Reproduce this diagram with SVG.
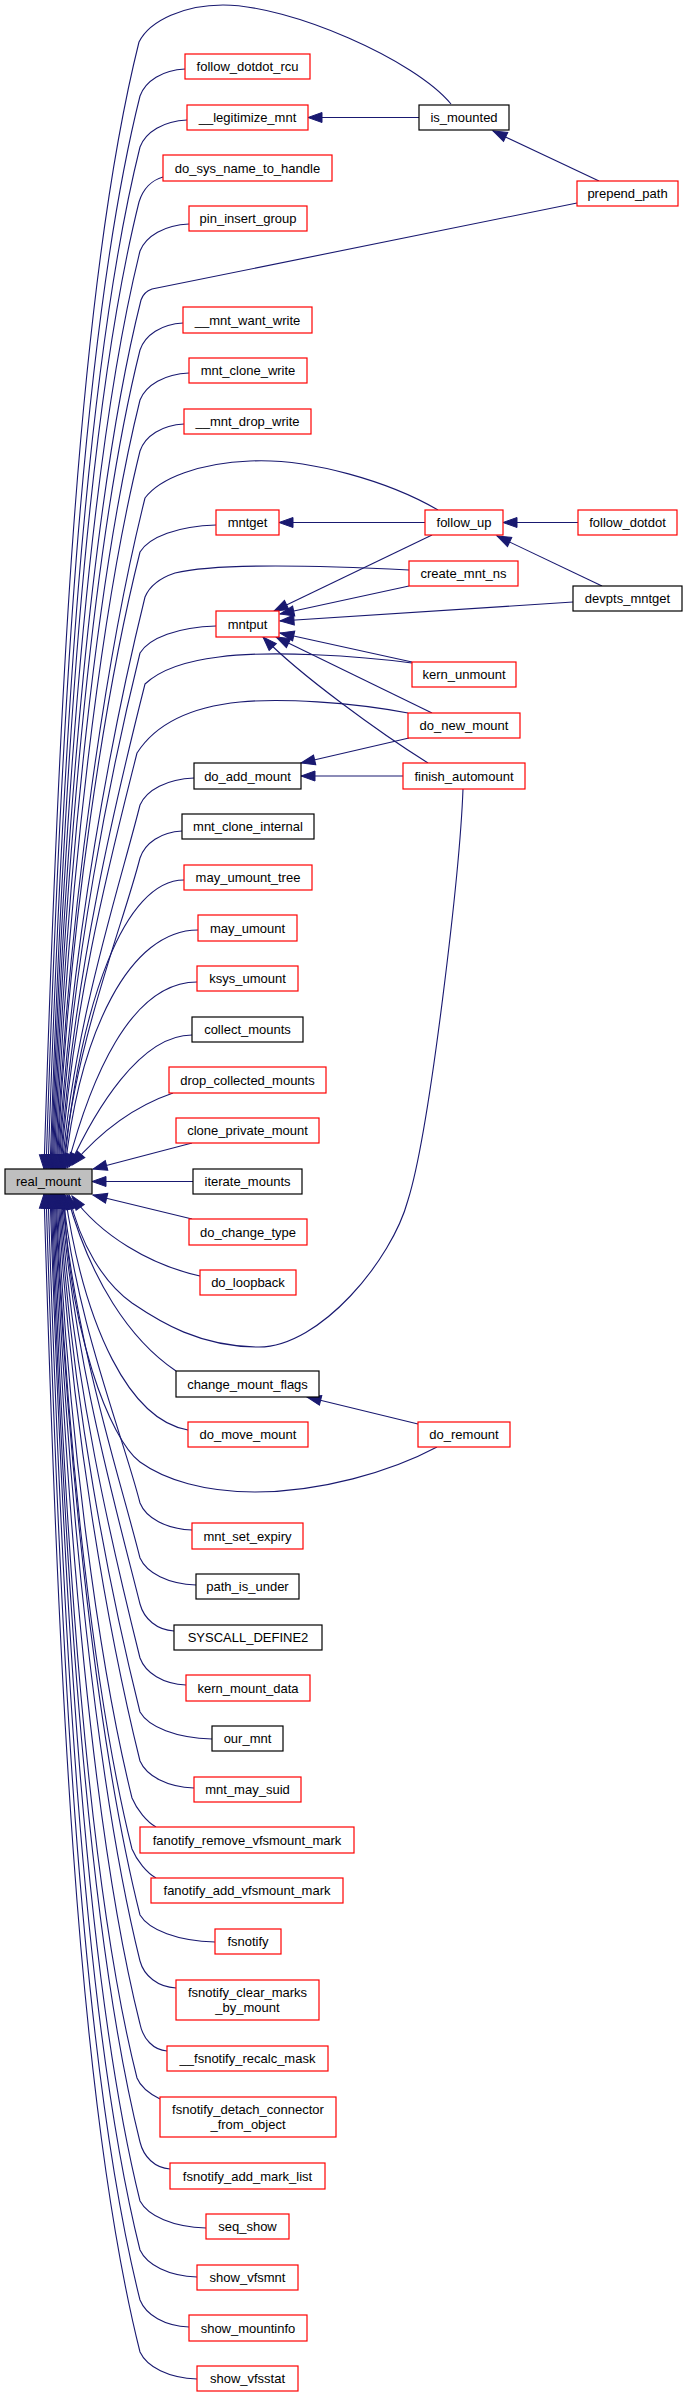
<svg xmlns="http://www.w3.org/2000/svg" width="683" height="2397" viewBox="0 0 683 2397">
<style>
.n rect{fill:#ffffff;stroke:#ff0000;stroke-width:1.2}
.k rect{stroke:#000000}
.g rect{fill:#bfbfbf;stroke:#000000}
text{font-family:"Liberation Sans",Arial,Helvetica,sans-serif;font-size:13px;text-anchor:middle;fill:#000000}
.e path{fill:none;stroke:#191970;stroke-width:1.1;marker-end:url(#ah)}
</style>
<defs>
<marker id="ah" markerUnits="userSpaceOnUse" markerWidth="14" markerHeight="10" refX="14" refY="5" orient="auto" viewBox="0 0 14 10" overflow="visible">
<path d="M0,0 L14,5 L0,10 Z" fill="#191970" stroke="#191970" stroke-width="1"/>
</marker>
</defs>
<rect x="0" y="0" width="683" height="2397" fill="#ffffff"/>
<g id="edges" class="e">
<path d="M419,117.5 L308,117.5"/>
<path d="M599,181 L493,131"/>
<path d="M425,522.5 L279,522.5"/>
<path d="M578,522.5 L503,522.5"/>
<path d="M602,586 L497,536"/>
<path d="M432,535 L274,611"/>
<path d="M409,586 L280,614"/>
<path d="M573,602 L280,621"/>
<path d="M412,662 L280,633"/>
<path d="M432,713 L276,637"/>
<path d="M428,763 C380,733 300,675 263,637"/>
<path d="M409,738 L301,763"/>
<path d="M403,776 L301,776"/>
<path d="M418,1424 L307,1397"/>
<path d="M192,1143 L93,1169"/>
<path d="M193,1181.5 L92,1181.5"/>
<path d="M192,1219 L93,1195"/>
<path d="M451,104 C415,60 290,5 223,5 C185,5 150,20 139,42 C77,290 58,718 44,1169"/>
<path d="M577,203 L152,289 C146,291 143,294 141,300 C93,491 65,821 52,1169"/>
<path d="M438,510 C390,482 310,458 250,461 C200,463 160,478 145,498 C108,646 69,901 56,1169"/>
<path d="M409,570 C330,566 220,562 175,573 C160,578 150,585 145,597 C114,723 71,940 58,1169"/>
<path d="M412,663 C360,656 270,650 219,657 C185,661 160,670 145,684 C118,791 73,975 60,1169"/>
<path d="M408,713 C350,702 280,698 240,702 C190,707 155,725 137,753 C114,845 72,1003 61,1169"/>
<path d="M463,789 C460,870 430,1130 408,1200 C392,1260 320,1347 259,1347 C200,1347 160,1322 132,1303 C104,1283 80,1245 69,1195"/>
<path d="M437,1447 C390,1472 320,1492 255,1492 C205,1492 165,1480 140,1462 C110,1440 68,1330 64,1194"/>
<path d="M185,69 C162.5,70 145.4,81 140,96 C81,332 60,740 46,1169"/>
<path d="M187,120 C163.5,121 145.6,132 140,147 C84,372 62,760 48,1169"/>
<path d="M163,177 C152,180 143,189 139,202 C86,415 63,782 50,1169"/>
<path d="M189,224 C164.5,225 146,236 140,251 C90,453 64,802 51,1169"/>
<path d="M183,323 C161.5,324 145,335 140,350 C95,530 66,841 53,1169"/>
<path d="M189,373 C164.5,374 146,385 140,400 C98,569 67,861 54,1169"/>
<path d="M184,424 C162,425 145,436 140,451 C101,609 68,882 55,1169"/>
<path d="M216,525 C178,526 149,537 140,552 C106,688 69,922 57,1169"/>
<path d="M216,626 C178,627 149,638 140,653 C112,767 71,963 59,1169"/>
<path d="M194,778 C167,779 146.5,790 140,805 C120,885 74,1023 62,1169"/>
<path d="M182,831 C161,832 145,843 140,858 C123,925 74.5,1044 63,1169"/>
<path d="M184,880 C125,880 80,1000 64,1169"/>
<path d="M198,930 C130,930 80,1030 65,1169"/>
<path d="M197,982 C130,982 90,1080 67,1168"/>
<path d="M192,1035 C140,1035 95,1110 69,1167"/>
<path d="M173,1093 C135,1106 100,1132 72,1165"/>
<path d="M200,1276 C150,1265 100,1235 72,1196"/>
<path d="M176,1371 C130,1340 90,1280 67,1195"/>
<path d="M188,1430 C130,1420 85,1330 65,1195"/>
<path d="M192,1530 C166,1529 146,1518 140,1503 C123,1435 74.5,1318 63,1194"/>
<path d="M196,1585 C168,1584 146.7,1573 140,1558 C120,1478 74,1340 62,1194"/>
<path d="M174,1631 C157,1630 144,1619 140,1604 C117.5,1514 73,1358 61,1194"/>
<path d="M186,1685 C163,1684 145.5,1673 140,1658 C114.5,1556 72,1380 60,1194"/>
<path d="M212,1739 C176,1738 148.6,1727 140,1712 C111.5,1598 71,1401 59,1194"/>
<path d="M194,1788 C167,1787 146.5,1776 140,1761 C109,1636 70,1421 58,1194"/>
<path d="M156,1827 C147,1822 137,1810 132,1798 C99,1665 68,1436 57,1194"/>
<path d="M156,1878 C147,1873 137,1861 132,1849 C96,1705 67,1456 56,1194"/>
<path d="M215,1942 C177.5,1941 149,1930 140,1915 C100,1756 68,1482 55,1194"/>
<path d="M176,1988 C158,1987 144,1976 140,1961 C98,1792 67,1501 54,1194"/>
<path d="M167,2051 C153.5,2050 143,2039 140,2024 C94,1841 66,1526 53,1194"/>
<path d="M160,2099 C150,2094 141,2088 137,2078 C88,1884 65,1548 52,1194"/>
<path d="M170,2169 C155,2168 143.6,2157 140,2142 C88,1933 64,1573 51,1194"/>
<path d="M206,2228 C173,2227 148,2216 140,2201 C85,1979 63.5,1597 50,1194"/>
<path d="M197,2277 C168.5,2276 147,2265 140,2250 C82,2018 62,1616 48,1194"/>
<path d="M189,2327 C164.5,2326 146,2315 140,2300 C79,2057 60,1636 46,1194"/>
<path d="M197,2379 C168.5,2378 147,2367 140,2352 C76,2097 58,1657 44,1194"/>
</g>
<g id="real_mount" class="n g"><rect x="5" y="1169" width="87" height="25"/><text x="48.5" y="1186">real_mount</text></g>
<g id="follow_dotdot_rcu" class="n"><rect x="185" y="54" width="125" height="25"/><text x="247.5" y="71">follow_dotdot_rcu</text></g>
<g id="__legitimize_mnt" class="n"><rect x="187" y="105" width="121" height="25"/><text x="247.5" y="122">__legitimize_mnt</text></g>
<g id="is_mounted" class="n k"><rect x="419" y="105" width="90" height="25"/><text x="464" y="122">is_mounted</text></g>
<g id="do_sys_name_to_handle" class="n"><rect x="163" y="155" width="169" height="26"/><text x="247.5" y="172.5">do_sys_name_to_handle</text></g>
<g id="pin_insert_group" class="n"><rect x="189" y="206" width="118" height="25"/><text x="248" y="223">pin_insert_group</text></g>
<g id="prepend_path" class="n"><rect x="577" y="181" width="101" height="25"/><text x="627.5" y="198">prepend_path</text></g>
<g id="__mnt_want_write" class="n"><rect x="183" y="307" width="129" height="26"/><text x="247.5" y="324.5">__mnt_want_write</text></g>
<g id="mnt_clone_write" class="n"><rect x="189" y="358" width="118" height="25"/><text x="248" y="375">mnt_clone_write</text></g>
<g id="__mnt_drop_write" class="n"><rect x="184" y="409" width="127" height="25"/><text x="247.5" y="426">__mnt_drop_write</text></g>
<g id="mntget" class="n"><rect x="216" y="510" width="63" height="25"/><text x="247.5" y="527">mntget</text></g>
<g id="follow_up" class="n"><rect x="425" y="510" width="78" height="25"/><text x="464" y="527">follow_up</text></g>
<g id="follow_dotdot" class="n"><rect x="578" y="510" width="99" height="25"/><text x="627.5" y="527">follow_dotdot</text></g>
<g id="create_mnt_ns" class="n"><rect x="409" y="561" width="109" height="25"/><text x="463.5" y="578">create_mnt_ns</text></g>
<g id="devpts_mntget" class="n k"><rect x="573" y="586" width="109" height="25"/><text x="627.5" y="603">devpts_mntget</text></g>
<g id="mntput" class="n"><rect x="216" y="611" width="63" height="26"/><text x="247.5" y="628.5">mntput</text></g>
<g id="kern_unmount" class="n"><rect x="412" y="662" width="104" height="25"/><text x="464" y="679">kern_unmount</text></g>
<g id="do_new_mount" class="n"><rect x="408" y="713" width="112" height="25"/><text x="464" y="730">do_new_mount</text></g>
<g id="do_add_mount" class="n k"><rect x="194" y="763" width="107" height="26"/><text x="247.5" y="780.5">do_add_mount</text></g>
<g id="finish_automount" class="n"><rect x="403" y="763" width="122" height="26"/><text x="464" y="780.5">finish_automount</text></g>
<g id="mnt_clone_internal" class="n k"><rect x="182" y="814" width="132" height="25"/><text x="248" y="831">mnt_clone_internal</text></g>
<g id="may_umount_tree" class="n"><rect x="184" y="865" width="128" height="25"/><text x="248" y="882">may_umount_tree</text></g>
<g id="may_umount" class="n"><rect x="198" y="915" width="99" height="26"/><text x="247.5" y="932.5">may_umount</text></g>
<g id="ksys_umount" class="n"><rect x="197" y="966" width="101" height="25"/><text x="247.5" y="983">ksys_umount</text></g>
<g id="collect_mounts" class="n k"><rect x="192" y="1017" width="111" height="25"/><text x="247.5" y="1034">collect_mounts</text></g>
<g id="drop_collected_mounts" class="n"><rect x="169" y="1067" width="157" height="26"/><text x="247.5" y="1084.5">drop_collected_mounts</text></g>
<g id="clone_private_mount" class="n"><rect x="176" y="1118" width="143" height="25"/><text x="247.5" y="1135">clone_private_mount</text></g>
<g id="iterate_mounts" class="n k"><rect x="193" y="1169" width="109" height="25"/><text x="247.5" y="1186">iterate_mounts</text></g>
<g id="do_change_type" class="n"><rect x="189" y="1219" width="118" height="26"/><text x="248" y="1236.5">do_change_type</text></g>
<g id="do_loopback" class="n"><rect x="200" y="1270" width="96" height="25"/><text x="248" y="1287">do_loopback</text></g>
<g id="change_mount_flags" class="n k"><rect x="176" y="1371" width="143" height="26"/><text x="247.5" y="1388.5">change_mount_flags</text></g>
<g id="do_move_mount" class="n"><rect x="188" y="1422" width="120" height="25"/><text x="248" y="1439">do_move_mount</text></g>
<g id="do_remount" class="n"><rect x="418" y="1422" width="92" height="25"/><text x="464" y="1439">do_remount</text></g>
<g id="mnt_set_expiry" class="n"><rect x="192" y="1523" width="111" height="26"/><text x="247.5" y="1540.5">mnt_set_expiry</text></g>
<g id="path_is_under" class="n k"><rect x="196" y="1574" width="103" height="25"/><text x="247.5" y="1591">path_is_under</text></g>
<g id="SYSCALL_DEFINE2" class="n k"><rect x="174" y="1625" width="148" height="25"/><text x="248" y="1642">SYSCALL_DEFINE2</text></g>
<g id="kern_mount_data" class="n"><rect x="186" y="1675" width="124" height="26"/><text x="248" y="1692.5">kern_mount_data</text></g>
<g id="our_mnt" class="n k"><rect x="212" y="1726" width="71" height="25"/><text x="247.5" y="1743">our_mnt</text></g>
<g id="mnt_may_suid" class="n"><rect x="194" y="1777" width="107" height="25"/><text x="247.5" y="1794">mnt_may_suid</text></g>
<g id="fanotify_remove_vfsmount_mark" class="n"><rect x="140" y="1827" width="214" height="26"/><text x="247" y="1844.5">fanotify_remove_vfsmount_mark</text></g>
<g id="fanotify_add_vfsmount_mark" class="n"><rect x="151" y="1878" width="192" height="25"/><text x="247" y="1895">fanotify_add_vfsmount_mark</text></g>
<g id="fsnotify" class="n"><rect x="215" y="1929" width="66" height="25"/><text x="248" y="1946">fsnotify</text></g>
<g id="fsnotify_clear_marks_by_mount" class="n"><rect x="176" y="1980" width="143" height="40"/><text x="247.5" y="1997">fsnotify_clear_marks</text><text x="247.5" y="2012">_by_mount</text></g>
<g id="__fsnotify_recalc_mask" class="n"><rect x="167" y="2046" width="161" height="25"/><text x="247.5" y="2063">__fsnotify_recalc_mask</text></g>
<g id="fsnotify_detach_connector_from_object" class="n"><rect x="160" y="2097" width="176" height="40"/><text x="248" y="2114">fsnotify_detach_connector</text><text x="248" y="2129">_from_object</text></g>
<g id="fsnotify_add_mark_list" class="n"><rect x="170" y="2163" width="155" height="26"/><text x="247.5" y="2180.5">fsnotify_add_mark_list</text></g>
<g id="seq_show" class="n"><rect x="206" y="2214" width="83" height="25"/><text x="247.5" y="2231">seq_show</text></g>
<g id="show_vfsmnt" class="n"><rect x="197" y="2265" width="101" height="25"/><text x="247.5" y="2282">show_vfsmnt</text></g>
<g id="show_mountinfo" class="n"><rect x="189" y="2315" width="118" height="26"/><text x="248" y="2332.5">show_mountinfo</text></g>
<g id="show_vfsstat" class="n"><rect x="197" y="2366" width="101" height="25"/><text x="247.5" y="2383">show_vfsstat</text></g>
</svg>
